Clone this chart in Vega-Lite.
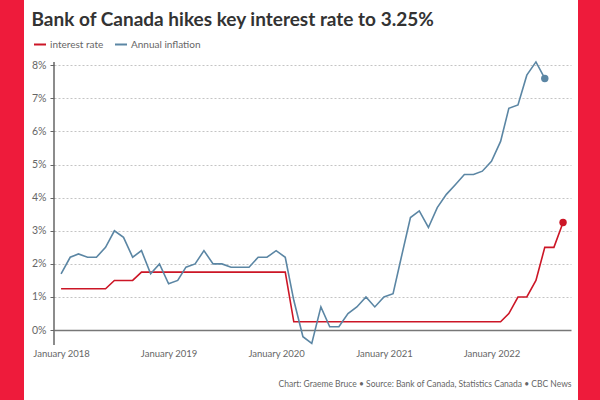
{
  "$schema": "https://vega.github.io/schema/vega-lite/v6.json",
  "background": "white",
  "padding": 0,
  "spacing": 7,
  "resolve": {"legend": {"color": "independent"}, "scale": {"color": "independent"}},
  "config": {"view": {"stroke": null}, "font": "Lato"},
  "hconcat": [
    {
      "data": {"values": []},
      "mark": {"type": "point", "opacity": 0},
      "encoding": {},
      "width": 24,
      "height": 400,
      "view": {"fill": "#ee1b3b", "stroke": null}
    },
    {
      "width": 517,
      "height": 345,
      "title": {
        "text": "Bank of Canada hikes key interest rate to 3.25%",
        "anchor": "start",
        "frame": "bounds",
        "fontSize": 19,
        "fontWeight": "bold",
        "color": "#333333",
        "offset": -29.5
      },
      "data": {
        "values": [
          {"date": "2018-01-01", "series": "interest rate", "value": 1.25},
          {"date": "2018-02-01", "series": "interest rate", "value": 1.25},
          {"date": "2018-03-01", "series": "interest rate", "value": 1.25},
          {"date": "2018-04-01", "series": "interest rate", "value": 1.25},
          {"date": "2018-05-01", "series": "interest rate", "value": 1.25},
          {"date": "2018-06-01", "series": "interest rate", "value": 1.25},
          {"date": "2018-07-01", "series": "interest rate", "value": 1.5},
          {"date": "2018-08-01", "series": "interest rate", "value": 1.5},
          {"date": "2018-09-01", "series": "interest rate", "value": 1.5},
          {"date": "2018-10-01", "series": "interest rate", "value": 1.75},
          {"date": "2018-11-01", "series": "interest rate", "value": 1.75},
          {"date": "2018-12-01", "series": "interest rate", "value": 1.75},
          {"date": "2019-01-01", "series": "interest rate", "value": 1.75},
          {"date": "2019-02-01", "series": "interest rate", "value": 1.75},
          {"date": "2019-03-01", "series": "interest rate", "value": 1.75},
          {"date": "2019-04-01", "series": "interest rate", "value": 1.75},
          {"date": "2019-05-01", "series": "interest rate", "value": 1.75},
          {"date": "2019-06-01", "series": "interest rate", "value": 1.75},
          {"date": "2019-07-01", "series": "interest rate", "value": 1.75},
          {"date": "2019-08-01", "series": "interest rate", "value": 1.75},
          {"date": "2019-09-01", "series": "interest rate", "value": 1.75},
          {"date": "2019-10-01", "series": "interest rate", "value": 1.75},
          {"date": "2019-11-01", "series": "interest rate", "value": 1.75},
          {"date": "2019-12-01", "series": "interest rate", "value": 1.75},
          {"date": "2020-01-01", "series": "interest rate", "value": 1.75},
          {"date": "2020-02-01", "series": "interest rate", "value": 1.75},
          {"date": "2020-03-01", "series": "interest rate", "value": 0.25},
          {"date": "2020-04-01", "series": "interest rate", "value": 0.25},
          {"date": "2020-05-01", "series": "interest rate", "value": 0.25},
          {"date": "2020-06-01", "series": "interest rate", "value": 0.25},
          {"date": "2020-07-01", "series": "interest rate", "value": 0.25},
          {"date": "2020-08-01", "series": "interest rate", "value": 0.25},
          {"date": "2020-09-01", "series": "interest rate", "value": 0.25},
          {"date": "2020-10-01", "series": "interest rate", "value": 0.25},
          {"date": "2020-11-01", "series": "interest rate", "value": 0.25},
          {"date": "2020-12-01", "series": "interest rate", "value": 0.25},
          {"date": "2021-01-01", "series": "interest rate", "value": 0.25},
          {"date": "2021-02-01", "series": "interest rate", "value": 0.25},
          {"date": "2021-03-01", "series": "interest rate", "value": 0.25},
          {"date": "2021-04-01", "series": "interest rate", "value": 0.25},
          {"date": "2021-05-01", "series": "interest rate", "value": 0.25},
          {"date": "2021-06-01", "series": "interest rate", "value": 0.25},
          {"date": "2021-07-01", "series": "interest rate", "value": 0.25},
          {"date": "2021-08-01", "series": "interest rate", "value": 0.25},
          {"date": "2021-09-01", "series": "interest rate", "value": 0.25},
          {"date": "2021-10-01", "series": "interest rate", "value": 0.25},
          {"date": "2021-11-01", "series": "interest rate", "value": 0.25},
          {"date": "2021-12-01", "series": "interest rate", "value": 0.25},
          {"date": "2022-01-01", "series": "interest rate", "value": 0.25},
          {"date": "2022-02-01", "series": "interest rate", "value": 0.25},
          {"date": "2022-03-01", "series": "interest rate", "value": 0.5},
          {"date": "2022-04-01", "series": "interest rate", "value": 1.0},
          {"date": "2022-05-01", "series": "interest rate", "value": 1.0},
          {"date": "2022-06-01", "series": "interest rate", "value": 1.5},
          {"date": "2022-07-01", "series": "interest rate", "value": 2.5},
          {"date": "2022-08-01", "series": "interest rate", "value": 2.5},
          {"date": "2022-09-01", "series": "interest rate", "value": 3.25},
          {"date": "2018-01-01", "series": "Annual inflation", "value": 1.7},
          {"date": "2018-02-01", "series": "Annual inflation", "value": 2.2},
          {"date": "2018-03-01", "series": "Annual inflation", "value": 2.3},
          {"date": "2018-04-01", "series": "Annual inflation", "value": 2.2},
          {"date": "2018-05-01", "series": "Annual inflation", "value": 2.2},
          {"date": "2018-06-01", "series": "Annual inflation", "value": 2.5},
          {"date": "2018-07-01", "series": "Annual inflation", "value": 3.0},
          {"date": "2018-08-01", "series": "Annual inflation", "value": 2.8},
          {"date": "2018-09-01", "series": "Annual inflation", "value": 2.2},
          {"date": "2018-10-01", "series": "Annual inflation", "value": 2.4},
          {"date": "2018-11-01", "series": "Annual inflation", "value": 1.7},
          {"date": "2018-12-01", "series": "Annual inflation", "value": 2.0},
          {"date": "2019-01-01", "series": "Annual inflation", "value": 1.4},
          {"date": "2019-02-01", "series": "Annual inflation", "value": 1.5},
          {"date": "2019-03-01", "series": "Annual inflation", "value": 1.9},
          {"date": "2019-04-01", "series": "Annual inflation", "value": 2.0},
          {"date": "2019-05-01", "series": "Annual inflation", "value": 2.4},
          {"date": "2019-06-01", "series": "Annual inflation", "value": 2.0},
          {"date": "2019-07-01", "series": "Annual inflation", "value": 2.0},
          {"date": "2019-08-01", "series": "Annual inflation", "value": 1.9},
          {"date": "2019-09-01", "series": "Annual inflation", "value": 1.9},
          {"date": "2019-10-01", "series": "Annual inflation", "value": 1.9},
          {"date": "2019-11-01", "series": "Annual inflation", "value": 2.2},
          {"date": "2019-12-01", "series": "Annual inflation", "value": 2.2},
          {"date": "2020-01-01", "series": "Annual inflation", "value": 2.4},
          {"date": "2020-02-01", "series": "Annual inflation", "value": 2.2},
          {"date": "2020-03-01", "series": "Annual inflation", "value": 0.9},
          {"date": "2020-04-01", "series": "Annual inflation", "value": -0.2},
          {"date": "2020-05-01", "series": "Annual inflation", "value": -0.4},
          {"date": "2020-06-01", "series": "Annual inflation", "value": 0.7},
          {"date": "2020-07-01", "series": "Annual inflation", "value": 0.1},
          {"date": "2020-08-01", "series": "Annual inflation", "value": 0.1},
          {"date": "2020-09-01", "series": "Annual inflation", "value": 0.5},
          {"date": "2020-10-01", "series": "Annual inflation", "value": 0.7},
          {"date": "2020-11-01", "series": "Annual inflation", "value": 1.0},
          {"date": "2020-12-01", "series": "Annual inflation", "value": 0.7},
          {"date": "2021-01-01", "series": "Annual inflation", "value": 1.0},
          {"date": "2021-02-01", "series": "Annual inflation", "value": 1.1},
          {"date": "2021-03-01", "series": "Annual inflation", "value": 2.2},
          {"date": "2021-04-01", "series": "Annual inflation", "value": 3.4},
          {"date": "2021-05-01", "series": "Annual inflation", "value": 3.6},
          {"date": "2021-06-01", "series": "Annual inflation", "value": 3.1},
          {"date": "2021-07-01", "series": "Annual inflation", "value": 3.7},
          {"date": "2021-08-01", "series": "Annual inflation", "value": 4.1},
          {"date": "2021-09-01", "series": "Annual inflation", "value": 4.4},
          {"date": "2021-10-01", "series": "Annual inflation", "value": 4.7},
          {"date": "2021-11-01", "series": "Annual inflation", "value": 4.7},
          {"date": "2021-12-01", "series": "Annual inflation", "value": 4.8},
          {"date": "2022-01-01", "series": "Annual inflation", "value": 5.1},
          {"date": "2022-02-01", "series": "Annual inflation", "value": 5.7},
          {"date": "2022-03-01", "series": "Annual inflation", "value": 6.7},
          {"date": "2022-04-01", "series": "Annual inflation", "value": 6.8},
          {"date": "2022-05-01", "series": "Annual inflation", "value": 7.7},
          {"date": "2022-06-01", "series": "Annual inflation", "value": 8.1},
          {"date": "2022-07-01", "series": "Annual inflation", "value": 7.6}
        ]
      },
      "layer": [
        {
          "data": {"values": [{"axisline": "y"}]},
          "mark": {"type": "rule", "color": "#666666", "strokeWidth": 1.5},
          "encoding": {
            "x": {"datum": {"year": 2017, "month": 12, "date": 8, "utc": true}, "type": "temporal"},
            "y": {"datum": -0.45, "type": "quantitative"},
            "y2": {"datum": 8.1}
          }
        },
        {
          "mark": {"type": "line", "strokeWidth": 1.6},
          "encoding": {
            "x": {
              "field": "date",
              "type": "temporal",
              "scale": {
                "type": "utc",
                "domain": [
                  {"year": 2017, "month": 12, "date": 8, "utc": true},
                  {"year": 2022, "month": 9, "date": 28, "utc": true}
                ]
              },
              "axis": {
                "values": [
                  {"year": 2018, "month": 1, "date": 1, "utc": true},
                  {"year": 2019, "month": 1, "date": 1, "utc": true},
                  {"year": 2020, "month": 1, "date": 1, "utc": true},
                  {"year": 2021, "month": 1, "date": 1, "utc": true},
                  {"year": 2022, "month": 1, "date": 1, "utc": true}
                ],
                "format": "%B %Y",
                "labelColor": "#666666",
                "labelFontSize": 9.5,
                "labelPadding": 3.5,
                "labelFlush": false,
                "labelOverlap": false,
                "ticks": false,
                "domain": false,
                "grid": false,
                "title": "Chart: Graeme Bruce • Source: Bank of Canada, Statistics Canada • CBC News",
                "titleAnchor": "end",
                "titleFontSize": 8.5,
                "titleFontWeight": "normal",
                "titleColor": "#666666",
                "titlePadding": 21.5
              }
            },
            "y": {
              "field": "value",
              "type": "quantitative",
              "scale": {"domain": [-0.45, 9.97], "nice": false, "zero": false},
              "axis": {
                "values": [0, 1, 2, 3, 4, 5, 6, 7, 8],
                "labelExpr": "datum.value + '%'",
                "labelColor": "#666666",
                "labelFontSize": 10.5,
                "labelPadding": 4,
                "tickSize": 4,
                "tickColor": "#666666",
                "domain": false,
                "title": null,
                "grid": true,
                "gridDash": {"condition": {"test": "datum.value === 0", "value": []}, "value": [2, 2]},
                "gridColor": {"condition": {"test": "datum.value === 0", "value": "#777777"}, "value": "#c4c4c4"},
                "gridWidth": {"condition": {"test": "datum.value === 0", "value": 1.5}, "value": 1}
              }
            },
            "color": {
              "field": "series",
              "type": "nominal",
              "scale": {"domain": ["interest rate", "Annual inflation"], "range": ["#cc1626", "#5b86a4"]},
              "legend": {
                "orient": "none",
                "legendX": -21,
                "legendY": 37.5,
                "direction": "horizontal",
                "title": null,
                "symbolType": "stroke",
                "symbolSize": 144,
                "symbolStrokeWidth": 2,
                "labelFontSize": 10,
                "labelColor": "#666666",
                "columnPadding": 7,
                "labelOffset": 3
              }
            }
          }
        },
        {
          "transform": [
            {"window": [{"op": "row_number", "as": "rn"}], "groupby": ["series"], "sort": [{"field": "date", "order": "descending"}]},
            {"filter": "datum.rn == 1"}
          ],
          "mark": {"type": "point", "filled": true, "size": 55, "opacity": 1},
          "encoding": {
            "x": {"field": "date", "type": "temporal"},
            "y": {"field": "value", "type": "quantitative"},
            "color": {"field": "series", "type": "nominal"}
          }
        }
      ]
    },
    {
      "data": {"values": []},
      "mark": {"type": "point", "opacity": 0},
      "encoding": {},
      "width": 23,
      "height": 400,
      "view": {"fill": "#ee1b3b", "stroke": null}
    }
  ]
}
